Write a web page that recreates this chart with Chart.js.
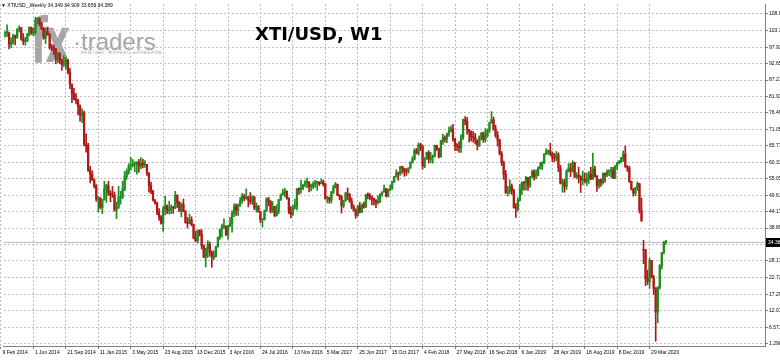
<!DOCTYPE html>
<html><head><meta charset="utf-8">
<script src="https://cdn.jsdelivr.net/npm/chart.js@4.4.1/dist/chart.umd.min.js"></script>
<style>
html,body{margin:0;padding:0;background:#fff;}
#wrap{position:relative;width:780px;height:360px;overflow:hidden;background:#fff;}
canvas{position:absolute;left:0;top:0;z-index:1;}
.wm{position:absolute;z-index:0;white-space:nowrap;line-height:1;}
.ov{position:absolute;z-index:2;white-space:nowrap;line-height:1;}
</style></head>
<body><div id="wrap">
<div class="wm" style="left:31px;top:4px;font:bold 62px 'DejaVu Sans';color:#a6a6a6;transform:scaleX(0.62);transform-origin:0 0;letter-spacing:-4px">fx</div>
<div class="wm" style="left:73px;top:28px;font:24px 'Liberation Sans';color:#a6a6a6;">·traders</div>
<div class="wm" style="left:81px;top:50px;font:4.6px 'DejaVu Sans';color:#a0a0a0;letter-spacing:0.5px">РЕЙТИНГ ФОРЕКС БРОКЕРОВ</div>
<canvas id="c" width="780" height="360"></canvas>
<div class="ov" style="left:1px;top:2px;font:5px 'Liberation Sans';color:#000">▼ XTIUSD_,Weekly 34.349 34.909 33.659 34.389</div>
<div class="ov" style="left:255px;top:23px;font:bold 18px 'DejaVu Sans';color:#000">XTI/USD, W1</div>
</div>
<script>
// weekly bars, first bar = week of 9 Feb 2014
const tickIndex = [0,16,32,48,64,80,96,112,128,144,160,176,192,208,224,240,256,272,288,304,320];
const tickLabels = ['9 Feb 2014','1 Jun 2014','21 Sep 2014','11 Jan 2015','3 May 2015','23 Aug 2015','13 Dec 2015','3 Apr 2016','24 Jul 2016','13 Nov 2016','5 Mar 2017','25 Jun 2017','15 Oct 2017','4 Feb 2018','27 May 2018','16 Sep 2018','6 Jan 2019','28 Apr 2019','18 Aug 2019','8 Dec 2019','29 Mar 2020'];
const yTicks = [108.8,103.3,97.93,92.65,87.21,81.93,76.49,71.05,65.77,60.33,55.05,49.61,44.17,38.89,33.45,28.17,22.73,17.29,12.01,6.571,1.290];
const yTickLabels = ['108.8','103.3','97.93','92.65','87.21','81.93','76.49','71.05','65.77','60.33','55.05','49.61','44.17','38.89','33.45','28.17','22.73','17.29','12.01','6.571','1.290'];
const lastPrice = 34.389;
const lastPriceLabel = '34.38';

const opens = [
99.9,100.3,102.2,102.6,102.6,98.9,99.5,101.7,101.1,103.7,
104.3,100.6,99.8,100.0,102.0,104.4,102.7,102.7,106.9,107.3,
105.7,104.1,100.8,103.1,102.1,97.9,97.7,97.4,93.7,96.0,
93.3,92.3,92.4,93.5,89.7,85.8,82.8,81.0,80.5,78.7,
75.8,76.5,66.2,65.8,57.8,56.5,54.7,52.7,48.4,48.7,
45.6,48.2,51.7,52.8,50.3,49.8,49.6,44.8,45.7,48.9,
49.1,51.6,55.7,57.2,59.2,59.4,59.7,59.7,60.3,59.1,
60.0,59.6,59.6,56.9,52.7,50.9,48.1,47.1,43.9,42.5,
40.5,45.2,46.1,44.6,44.7,45.7,45.5,49.6,47.3,44.6,
46.6,44.3,40.7,40.4,41.7,40.0,35.6,34.7,38.1,37.0,
33.2,29.4,32.2,33.6,30.9,29.4,29.6,32.8,35.9,38.5,
39.4,39.5,36.8,39.7,40.4,43.7,45.9,44.7,46.2,47.8,
49.3,48.6,49.1,48.0,47.6,49.0,45.4,46.0,44.2,41.6,
41.8,44.5,48.5,47.6,44.4,45.9,43.0,44.5,48.2,49.8,
50.4,50.9,48.7,44.1,43.4,45.7,46.1,51.7,51.5,51.9,
53.0,53.7,54.0,52.4,52.4,53.2,53.8,53.9,53.4,54.0,
53.3,48.5,48.8,48.0,50.6,52.2,53.2,49.6,49.3,46.2,
47.8,50.3,49.8,47.7,45.8,44.7,43.0,46.0,44.2,46.5,
45.8,49.7,49.6,48.8,48.5,47.9,47.3,47.5,49.9,50.7,
51.7,49.3,51.5,51.8,53.9,55.6,56.7,56.6,59.0,58.4,
57.4,57.3,58.5,60.4,61.4,64.3,63.4,66.1,65.5,59.2,
61.7,63.6,61.3,62.0,62.3,65.9,64.9,62.1,67.4,68.4,
68.1,69.7,70.7,71.3,67.9,65.8,65.7,65.1,68.6,74.2,
73.8,71.0,70.5,68.7,68.5,67.6,65.9,68.7,69.8,67.8,
69.0,70.8,73.3,74.3,71.3,69.1,67.6,63.1,60.2,56.5,
50.4,50.9,52.6,51.2,45.6,45.3,48.0,51.6,53.8,53.7,
55.3,52.7,55.6,57.3,55.8,56.1,58.5,59.0,60.1,63.1,
63.9,64.0,63.3,61.9,61.7,62.8,58.6,53.5,54.0,52.5,
57.4,58.5,57.5,60.2,55.6,56.2,55.7,54.5,54.9,54.2,
55.1,56.5,54.9,58.1,55.9,52.8,54.7,53.8,56.7,56.2,
57.2,57.7,57.8,55.2,59.2,60.1,60.4,61.7,63.1,59.0,
58.5,54.2,51.6,50.3,52.1,53.4,44.8,32.0,31.7,22.4,
21.5,28.3,22.8,19.2,11.5,19.5,26.5,30.8,34.349
];
const highs = [
101.0,103.4,103.0,105.2,102.9,101.0,102.2,101.9,104.0,104.9,
104.4,102.4,101.2,102.5,104.6,104.5,104.2,107.7,107.7,107.5,
106.0,104.4,104.3,104.5,102.4,98.9,98.6,97.5,96.4,96.0,
94.0,95.2,94.6,94.0,91.0,86.0,84.5,82.8,81.0,79.1,
77.8,77.1,69.7,66.6,59.0,57.6,55.0,53.1,49.3,48.9,
48.3,54.2,53.2,54.2,51.1,52.5,50.7,47.4,52.5,50.9,
54.2,57.4,58.2,59.9,62.0,61.3,60.6,60.6,61.3,61.9,
61.4,60.9,59.7,56.9,53.9,51.2,48.2,47.4,45.3,43.0,
45.9,49.3,46.5,47.7,46.5,46.0,50.9,49.8,47.6,47.1,
48.4,44.7,42.4,43.5,42.6,40.2,37.9,38.3,38.4,38.4,
33.4,32.4,34.8,34.4,31.5,31.5,33.0,36.0,38.6,40.2,
41.9,39.6,39.8,42.4,44.5,46.8,46.8,46.7,48.9,50.2,
49.9,51.7,49.2,50.5,49.5,49.3,47.1,46.3,44.3,41.9,
44.8,48.8,48.9,47.9,47.6,46.0,46.5,48.3,50.0,51.6,
51.9,51.1,48.8,45.9,46.5,48.4,51.8,52.0,54.5,53.1,
54.4,55.2,54.0,53.3,54.0,54.5,54.1,54.0,54.9,54.6,
53.5,49.3,49.0,50.9,52.9,53.8,53.3,49.9,49.5,48.0,
50.6,52.0,50.2,48.7,46.5,45.2,46.3,47.3,46.8,47.4,
49.9,50.4,50.2,49.4,48.7,48.2,49.4,50.2,50.7,52.9,
51.9,51.7,52.9,54.2,55.8,57.9,57.2,59.1,59.1,58.5,
58.3,58.6,60.5,62.2,64.8,64.9,66.7,66.6,66.0,61.9,
63.7,64.2,63.6,62.8,66.0,66.0,65.0,67.5,69.6,69.0,
69.9,71.9,72.3,72.8,68.2,66.5,67.1,69.4,74.5,75.3,
75.0,71.1,70.6,70.4,69.8,67.7,69.0,70.2,70.3,71.4,
71.2,73.5,76.9,75.2,72.5,70.4,67.9,63.9,60.8,57.7,
52.5,54.6,53.3,51.6,46.9,48.8,53.3,54.0,54.0,55.8,
55.5,55.8,57.8,57.9,57.9,58.9,60.4,60.6,63.2,64.8,
64.4,66.6,63.8,63.3,63.9,63.5,59.4,54.9,54.8,58.0,
59.9,60.0,60.9,60.4,57.0,58.8,56.0,57.5,56.9,56.9,
57.4,58.8,63.4,59.1,56.0,54.9,54.9,56.9,56.9,57.9,
57.9,58.7,58.7,59.3,60.4,61.0,62.0,64.1,65.7,59.3,
59.1,54.2,51.8,52.2,54.0,53.5,48.7,34.9,32.0,25.2,
29.1,28.4,23.5,19.5,19.8,27.0,31.0,34.6,34.909
];
const lows = [
99.3,100.0,101.3,101.4,97.4,97.9,98.9,98.7,100.8,102.9,
100.2,98.7,98.6,99.7,101.6,102.1,101.9,102.2,105.5,104.9,
103.6,100.5,99.1,101.8,97.2,96.8,95.6,92.5,92.9,92.5,
90.4,91.6,90.8,89.2,84.4,79.8,80.7,79.4,75.8,73.8,
73.3,65.7,63.7,57.4,53.6,54.4,52.0,47.6,44.2,45.2,
43.6,48.0,47.3,49.5,47.5,48.9,44.4,42.0,45.3,46.7,
48.5,51.1,54.8,56.5,57.8,58.8,57.3,56.5,57.1,58.3,
58.5,58.7,56.1,50.6,50.1,47.7,46.7,43.3,41.4,40.2,
37.8,43.2,43.6,43.5,43.6,43.7,45.2,45.6,44.2,42.6,
44.2,40.5,38.9,40.3,39.6,35.4,34.5,34.0,36.3,32.1,
29.3,26.2,29.3,29.7,26.1,28.6,29.4,32.7,35.2,35.9,
38.8,36.4,35.2,39.4,37.6,42.6,43.0,43.0,46.0,47.0,
47.8,48.3,45.8,46.7,46.6,44.9,44.1,44.1,40.6,39.2,
41.5,44.3,46.1,43.8,44.0,42.6,42.8,43.6,47.9,49.6,
49.1,48.3,43.6,42.2,43.0,45.1,44.8,49.9,50.3,51.4,
52.4,52.1,50.7,51.0,51.8,52.2,51.2,52.8,53.3,52.6,
48.3,47.1,47.0,47.1,50.2,52.0,49.5,48.2,43.8,45.5,
47.7,48.2,47.3,45.2,44.4,42.1,42.8,43.8,43.9,45.4,
45.6,48.4,48.1,46.5,46.5,45.6,46.7,47.2,49.3,50.6,
49.1,49.1,51.0,51.5,53.8,55.6,54.5,56.1,56.8,55.8,
56.1,56.8,58.4,60.1,61.1,63.1,62.7,64.2,58.1,58.6,
61.3,60.1,60.2,60.1,62.1,64.2,61.8,62.1,66.2,66.9,
66.8,68.8,70.3,67.3,64.2,64.2,63.6,63.6,67.8,72.6,
69.5,67.0,67.3,66.9,66.3,64.4,65.5,67.6,66.9,66.9,
68.6,70.1,73.1,70.8,68.5,65.7,62.8,59.3,54.8,50.2,
49.4,50.1,49.9,45.4,42.4,44.4,47.8,49.8,51.3,51.3,
51.2,52.2,55.3,54.5,55.0,55.9,58.1,58.0,60.1,62.9,
62.9,62.5,60.6,60.5,60.9,57.3,53.3,50.6,50.6,51.5,
57.2,55.7,57.1,55.3,55.0,53.6,50.5,53.0,53.6,52.8,
53.5,54.7,54.8,55.5,50.9,51.9,52.5,53.2,53.9,55.7,
56.0,55.4,55.0,55.0,58.0,59.9,60.4,60.6,58.7,57.4,
53.8,51.3,49.3,49.5,51.2,43.8,41.1,27.3,20.1,20.5,
19.3,22.6,17.3,2.0,8.0,19.0,25.5,30.5,33.659
];
const closes = [
100.3,102.2,102.6,102.6,98.9,99.5,101.7,101.1,103.7,104.3,
100.6,99.8,100.0,102.0,104.4,102.7,102.7,106.9,107.3,105.7,
104.1,100.8,103.1,102.1,97.9,97.7,97.4,93.7,96.0,93.3,
92.3,92.4,93.5,89.7,85.8,82.8,81.0,80.5,78.7,75.8,
76.5,66.2,65.8,57.8,56.5,54.7,52.7,48.4,48.7,45.6,
48.2,51.7,52.8,50.3,49.8,49.6,44.8,45.7,48.9,49.1,
51.6,55.7,57.2,59.2,59.4,59.7,59.7,60.3,59.1,60.0,
59.6,59.6,56.9,52.7,50.9,48.1,47.1,43.9,42.5,40.5,
45.2,46.1,44.6,44.7,45.7,45.5,49.6,47.3,44.6,46.6,
44.3,40.7,40.4,41.7,40.0,35.6,34.7,38.1,37.0,33.2,
29.4,32.2,33.6,30.9,29.4,29.6,32.8,35.9,38.5,39.4,
39.5,36.8,39.7,40.4,43.7,45.9,44.7,46.2,47.8,49.3,
48.6,49.1,48.0,47.6,49.0,45.4,46.0,44.2,41.6,41.8,
44.5,48.5,47.6,44.4,45.9,43.0,44.5,48.2,49.8,50.4,
50.9,48.7,44.1,43.4,45.7,46.1,51.7,51.5,51.9,53.0,
53.7,54.0,52.4,52.4,53.2,53.8,53.9,53.4,54.0,53.3,
48.5,48.8,48.0,50.6,52.2,53.2,49.6,49.3,46.2,47.8,
50.3,49.8,47.7,45.8,44.7,43.0,46.0,44.2,46.5,45.8,
49.7,49.6,48.8,48.5,47.9,47.3,47.5,49.9,50.7,51.7,
49.3,51.5,51.8,53.9,55.6,56.7,56.6,59.0,58.4,57.4,
57.3,58.5,60.4,61.4,64.3,63.4,66.1,65.5,59.2,61.7,
63.6,61.3,62.0,62.3,65.9,64.9,62.1,67.4,68.4,68.1,
69.7,70.7,71.3,67.9,65.8,65.7,65.1,68.6,74.2,73.8,
71.0,70.5,68.7,68.5,67.6,65.9,68.7,69.8,67.8,69.0,
70.8,73.3,74.3,71.3,69.1,67.6,63.1,60.2,56.5,50.4,
50.9,52.6,51.2,45.6,45.3,48.0,51.6,53.8,53.7,55.3,
52.7,55.6,57.3,55.8,56.1,58.5,59.0,60.1,63.1,63.9,
64.0,63.3,61.9,61.7,62.8,58.6,53.5,54.0,52.5,57.4,
58.5,57.5,60.2,55.6,56.2,55.7,54.5,54.9,54.2,55.1,
56.5,54.9,58.1,55.9,52.8,54.7,53.8,56.7,56.2,57.2,
57.7,57.8,55.2,59.2,60.1,60.4,61.7,63.1,59.0,58.5,
54.2,51.6,50.3,52.1,53.4,44.8,41.3,31.7,22.4,21.5,
28.3,22.8,19.2,11.5,19.5,26.5,30.8,34.3,34.389
];

const BULL = '#1e8c1e', BEAR = '#b01818';
const colorAt = i => closes[i] >= opens[i] ? BULL : BEAR;
const wickData = closes.map((c, i) => ({x: i, y: [lows[i], highs[i]]}));
const bodyData = closes.map((c, i) => ({x: i, y: [opens[i], c]}));

const priceLine = {
  id: 'priceLine',
  beforeDatasetsDraw(chart) {
    const {ctx, chartArea: a, scales: {y}} = chart;
    const py = Math.round(y.getPixelForValue(lastPrice)) + 0.5;
    ctx.save();
    ctx.strokeStyle = '#c0c0c0'; ctx.lineWidth = 1;
    ctx.beginPath(); ctx.moveTo(a.left, py); ctx.lineTo(a.right, py); ctx.stroke();
    ctx.restore();
  },
  afterDraw(chart) {
    const {ctx, chartArea: a, scales: {y}} = chart;
    const py = Math.round(y.getPixelForValue(lastPrice));
    ctx.save();
    ctx.fillStyle = '#000';
    ctx.fillRect(a.right + 1, py - 4, 14, 9);
    ctx.fillStyle = '#fff';
    ctx.font = '5px "Liberation Sans"';
    ctx.textBaseline = 'middle';
    ctx.fillText(lastPriceLabel, a.right + 3, py + 0.5);
    ctx.restore();
  }
};

new Chart(document.getElementById('c'), {
  type: 'bar',
  data: {datasets: [
    {data: wickData, barThickness: 1, backgroundColor: c => colorAt(c.dataIndex), borderWidth: 0, grouped: false, order: 2},
    {data: bodyData, barThickness: 1.6, minBarLength: 1, backgroundColor: c => colorAt(c.dataIndex), borderWidth: 0, grouped: false, order: 1}
  ]},
  options: {
    responsive: false, animation: false, devicePixelRatio: 1,
    layout: {padding: 0},
    plugins: {legend: {display: false}, tooltip: {enabled: false}},
    scales: {
      x: {
        type: 'linear', position: 'bottom', min: 1.47, max: 376.93, offset: false,
        grid: {offset: false, color: '#bdbdbd', lineWidth: 1, drawTicks: true, tickLength: 3, tickColor: '#808080', tickBorderDash: [], tickWidth: 1},
        border: {display: true, color: '#808080', width: 1, dash: [2, 2]},
        ticks: {autoSkip: false, maxRotation: 0, minRotation: 0, align: 'start', labelOffset: 1.5, padding: 1, color: '#000',
          font: {family: 'Liberation Sans', size: 5}, callback: (v, i) => tickLabels[i]},
        afterBuildTicks: s => { s.ticks = tickIndex.map(v => ({value: v})); },
        afterFit: s => { s.height = 14; }
      },
      y: {
        type: 'linear', position: 'right', min: 0.42, max: 112.03, beginAtZero: false,
        grid: {color: '#bdbdbd', lineWidth: 1, tickLength: 3, tickColor: '#808080', tickBorderDash: [], tickWidth: 1},
        border: {display: true, color: '#808080', width: 1, dash: [2, 2]},
        ticks: {autoSkip: false, padding: 1, color: '#000', font: {family: 'Liberation Sans', size: 5}, callback: (v, i) => yTickLabels[i]},
        afterBuildTicks: s => { s.ticks = yTicks.map(v => ({value: v})); },
        afterFit: s => { s.width = 15; }
      }
    }
  },
  plugins: [priceLine]
});
</script>
</body></html>
